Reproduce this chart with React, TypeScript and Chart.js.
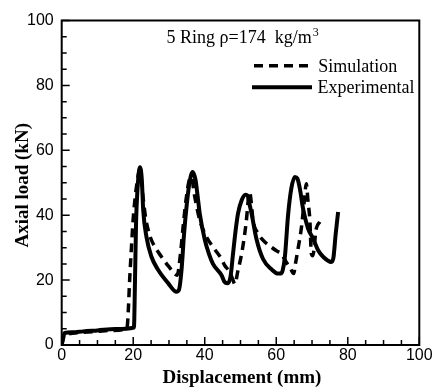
import React, { useEffect, useRef } from "react";
import { Chart, registerables } from "chart.js";

Chart.register(...registerables);

const xTicks = [0, 20, 40, 60, 80, 100];
const yTicks = [0, 20, 40, 60, 80, 100];

const expX = [0, 0.4, 0.8, 3, 6, 10, 15, 20.2, 20.5, 20.8, 21.2, 21.6, 21.9, 22.4, 22.8, 23.7, 25.1, 27.0, 29.8, 32.1, 32.8, 33.5, 34.2, 34.9, 35.6, 36.6, 37.4, 38.0, 38.6, 40.0, 41.2, 42.3, 44.7, 45.5, 46.3, 47.2, 47.9, 48.6, 49.3, 50.3, 51.4, 52.0, 52.6, 53.1, 54.5, 56.3, 58.7, 60.5, 61.3, 61.8, 62.4, 63.3, 64.2, 65.2, 65.9, 66.6, 67.5, 68.9, 70.3, 71.7, 73.1, 75.4, 76.0, 76.6, 77.3];
const expY = [0, 2, 3.7, 3.9, 4.2, 4.5, 4.9, 5.4, 20, 38, 48, 53.5, 54.8, 51, 41.5, 33.3, 27.2, 23.1, 19, 16.4, 17, 23, 34, 42.5, 49, 53.3, 51, 46, 40.5, 32.5, 28, 25, 21.5, 19.5, 19, 21, 28, 35, 40.5, 44.5, 46.3, 46, 43, 40.5, 32.5, 26.5, 23.3, 22, 22, 23, 27, 40, 48.2, 51.8, 51.3, 48.2, 42, 35.9, 32.8, 29.2, 27.2, 25.6, 27, 34, 41];

const simX = [0, 0.5, 1, 3, 6, 10, 14, 18.2, 18.5, 19.0, 19.5, 20.0, 20.6, 21.2, 21.7, 22.2, 22.8, 23.5, 24.3, 25.1, 27.9, 30.7, 31.5, 32.3, 33.2, 34.0, 34.8, 35.6, 36.3, 37.0, 37.5, 38.6, 40.5, 42.8, 44.7, 45.6, 47.0, 47.9, 48.4, 49.3, 50.3, 51.2, 51.7, 52.2, 52.6, 53.0, 53.5, 54.9, 56.3, 58.2, 60.1, 61.5, 62.8, 64.0, 64.9, 65.3, 66.1, 67.0, 67.8, 68.4, 68.9, 69.4, 69.8, 70.2, 71.2, 72.2];
const simY = [0, 2.5, 3.3, 3.6, 3.9, 4.2, 4.5, 5, 8, 20, 30, 39, 46, 51, 53.8, 51, 45, 39, 35, 32.3, 27.2, 23.1, 22, 21.5, 28, 37, 45, 50.5, 51.8, 47, 44, 38.5, 33.3, 29.5, 26.5, 24.5, 22.5, 20, 18.8, 23, 28, 34.4, 39, 45, 47, 44, 38.5, 34.4, 32.3, 30.5, 29, 28, 25.5, 23.5, 22, 24.6, 29.7, 35.9, 44, 49.7, 44, 38.5, 28.2, 27.5, 35.9, 38];

const seriesNames = ["Simulation", "Experimental"];
const annotation = "5 Ring ρ=174  kg/m";
const xTitle = "Displacement (mm)";
const yTitle = "Axial load (kN)";

const toPts = (xs: number[], ys: number[]) => xs.map((x, i) => ({ x, y: ys[i] }));

const framePlugin = {
  id: "frame",
  afterDraw(chart: any) {
    const { ctx, chartArea: a, scales } = chart;
    const xs = scales.x;
    const ys = scales.y;
    ctx.save();
    ctx.strokeStyle = "#000";
    ctx.lineWidth = 2;
    ctx.strokeRect(a.left, a.top, a.right - a.left, a.bottom - a.top);
    ctx.lineWidth = 1.5;
    ctx.beginPath();
    for (let v = 0; v <= 100; v += 5) {
      const len = v % 20 === 0 ? 8 : 5;
      const px = xs.getPixelForValue(v);
      ctx.moveTo(px, a.bottom);
      ctx.lineTo(px, a.bottom - len);
      const py = ys.getPixelForValue(v);
      ctx.moveTo(a.left, py);
      ctx.lineTo(a.left + len, py);
    }
    ctx.stroke();

    // annotation
    ctx.fillStyle = "#000";
    ctx.textBaseline = "alphabetic";
    ctx.textAlign = "left";
    ctx.font = "18px 'Liberation Serif'";
    ctx.fillText(annotation, 166.5, 42.5);
    const w = ctx.measureText(annotation).width;
    ctx.font = "12px 'Liberation Serif'";
    ctx.fillText("3", 166.5 + w + 1, 36);

    // legend
    ctx.lineWidth = 3.5;
    ctx.setLineDash([9, 6]);
    ctx.beginPath();
    ctx.moveTo(254, 65.7);
    ctx.lineTo(313, 65.7);
    ctx.stroke();
    ctx.setLineDash([]);
    ctx.lineWidth = 4;
    ctx.beginPath();
    ctx.moveTo(252, 87.3);
    ctx.lineTo(312, 87.3);
    ctx.stroke();
    ctx.font = "18px 'Liberation Serif'";
    ctx.fillText(seriesNames[0], 318.3, 71.5);
    ctx.fillText(seriesNames[1], 317.5, 93);

    // axis titles
    ctx.font = "bold 19px 'Liberation Serif'";
    ctx.textAlign = "center";
    ctx.fillText(xTitle, (a.left + a.right) / 2 + 1.5, 383);
    ctx.save();
    ctx.translate(28, (a.top + a.bottom) / 2 + 2.5);
    ctx.rotate(-Math.PI / 2);
    ctx.fillText(yTitle, 0, 0);
    ctx.restore();
    ctx.restore();
  },
};

export default function App() {
  const ref = useRef<HTMLCanvasElement>(null);
  useEffect(() => {
    if (!ref.current) return;
    const tickFont = { family: "'Liberation Sans', Arial", size: 16 };
    const chart = new Chart(ref.current, {
      type: "scatter",
      data: {
        datasets: [
          {
            label: seriesNames[0],
            data: toPts(simX, simY),
            showLine: true,
            borderColor: "#000",
            borderWidth: 3.5,
            borderDash: [9, 6],
            pointRadius: 0,
            cubicInterpolationMode: "monotone",
          },
          {
            label: seriesNames[1],
            data: toPts(expX, expY),
            showLine: true,
            borderColor: "#000",
            borderWidth: 4,
            pointRadius: 0,
            cubicInterpolationMode: "monotone",
          },
        ],
      },
      options: {
        animation: false,
        responsive: false,
        layout: { padding: { top: 20.5, right: 17.7, left: 0, bottom: 0 } },
        plugins: { legend: { display: false }, tooltip: { enabled: false } },
        scales: {
          x: {
            type: "linear",
            min: 0,
            max: 100,
            afterBuildTicks: (s: any) => {
              s.ticks = xTicks.map((v) => ({ value: v }));
            },
            afterFit: (s: any) => {
              s.height = 42;
            },
            grid: { display: false, drawTicks: false },
            border: { display: false },
            ticks: { color: "#000", font: tickFont, padding: 1, maxRotation: 0 },
          },
          y: {
            type: "linear",
            min: 0,
            max: 100,
            afterBuildTicks: (s: any) => {
              s.ticks = yTicks.map((v) => ({ value: v }));
            },
            afterFit: (s: any) => {
              s.width = 61.7;
            },
            grid: { display: false, drawTicks: false },
            border: { display: false },
            ticks: { color: "#000", font: tickFont, padding: 8 },
          },
        },
      },
      plugins: [framePlugin],
    });
    return () => chart.destroy();
  }, []);
  return (
    <div style={{ position: "fixed", left: 0, top: 0, width: 437, height: 387, background: "#fff" }}>
      <canvas ref={ref} width={437} height={387} />
    </div>
  );
}
